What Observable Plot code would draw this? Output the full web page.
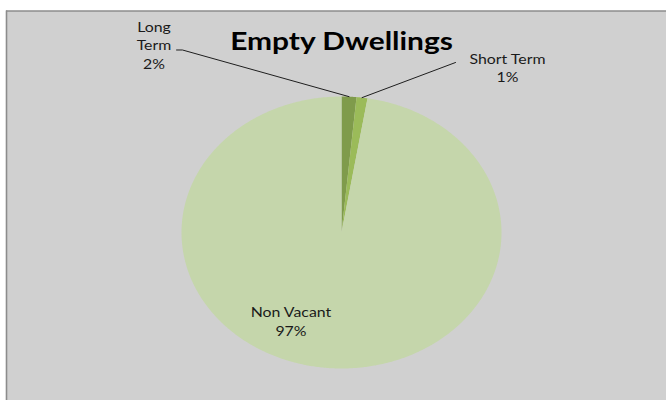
<!DOCTYPE html>
<html><head><meta charset="utf-8">
<script src="https://cdn.jsdelivr.net/npm/d3@7"></script>
<script src="https://cdn.jsdelivr.net/npm/@observablehq/plot@0.6"></script>
<style>html,body{margin:0;background:#fff;overflow:hidden;width:666px;height:400px;} #chart{width:666px;height:400px;overflow:hidden;} svg{display:block;overflow:hidden;}</style>
</head><body><div id="chart"></div>
<script>
// ---- data ----
const title = "Empty Dwellings";
const categories = ["Long Term", "Short Term", "Non Vacant"];
const shares = [1.5, 1.1, 97.4];
const labelLines = [["Long", "Term"], ["Short Term"], ["Non Vacant"]];

// ---- layout / style ----
const W = 666, H = 400;
const cx = 341, cy = 232, rx = 160, ry = 136;
const colors = ["#7f9b4b", "#9bbb59", "#c5d6ab"];
const labelAnchor = [[-1.172, 1.505], [1.0375, 1.271], [-0.316, -0.592]];
const leaderStart = [[[-1.031, 1.342], [-0.994, 1.342]], [[0.7125, 1.25]], null];
const titlePos = [0, 1.396];
const lineStep = 18.5 / ry;
const stretch = 1.22;
const panelTop = 10.5, panelLeft = 6;   // px of the chart-area border

const rows = categories.map((c, i) => ({category: c, value: shares[i]}));
const arcs = d3.pie().sort(null).value(d => d.value).startAngle(0).endAngle(2 * Math.PI)(rows);
const total = d3.sum(shares);

const slicePts = [];
arcs.forEach(a => {
  const c = a.data.category;
  const n = Math.max(2, Math.ceil((a.endAngle - a.startAngle) / (Math.PI / 360)));
  slicePts.push({category: c, x: 0, y: 0});
  for (let k = 0; k <= n; k++) {
    const t = a.startAngle + (a.endAngle - a.startAngle) * k / n;
    slicePts.push({category: c, x: Math.sin(t), y: Math.cos(t)});
  }
  slicePts.push({category: c, x: 0, y: 0});
});

const labelRows = [];
const leaderPts = [];
arcs.forEach((a, i) => {
  const lines = [...labelLines[i], Math.round(a.data.value / total * 100) + "%"];
  lines.forEach((t, j) => labelRows.push({text: t, x: labelAnchor[i][0], y: labelAnchor[i][1] - j * lineStep}));
  if (leaderStart[i]) {
    const mid = (a.startAngle + a.endAngle) / 2;
    leaderStart[i].forEach(p => leaderPts.push({category: a.data.category, x: p[0], y: p[1]}));
    leaderPts.push({category: a.data.category, x: Math.sin(mid), y: Math.cos(mid)});
  }
});

const xLeft = (panelLeft - cx) / rx, xRight = (W + 10 - cx) / rx;
const yTop = (cy - panelTop) / ry, yBottom = (cy - H - 10) / ry;

const chart = Plot.plot({
  width: W, height: H, margin: 0,
  x: {domain: [-cx / rx, (W - cx) / rx], axis: null},
  y: {domain: [(cy - H) / ry, cy / ry], axis: null},
  color: {domain: categories, range: colors},
  style: {fontFamily: "Lato", background: "#fff", maxWidth: "none"},
  marks: [
    Plot.frame({fill: "#d0d0d0", stroke: "none", insetTop: panelTop, insetLeft: panelLeft}),
    Plot.ruleY([yTop], {x1: xLeft, x2: xRight, stroke: "#8c8c8c", strokeWidth: 1.6}),
    Plot.ruleX([xLeft], {y1: yTop, y2: yBottom, stroke: "#8c8c8c", strokeWidth: 1.6}),
    Plot.line(slicePts, {x: "x", y: "y", z: "category", fill: "category", stroke: "none", curve: "linear"}),
    Plot.line(leaderPts, {x: "x", y: "y", z: "category", stroke: "#1e1e1e", strokeWidth: 1, curve: "linear"}),
    Plot.text(labelRows, {x: "x", y: "y", text: "text", fontSize: 13, fill: "#1a1a1a"}),
    Plot.text([title], {x: () => titlePos[0], y: () => titlePos[1], text: d => d, fontSize: 24.5, fontWeight: "bold", fill: "#000"})
  ]
});
document.getElementById("chart").append(chart);
chart.querySelectorAll("text").forEach(el => {
  const w = el.getComputedTextLength();
  if (w > 0) {
    el.setAttribute("textLength", (w * stretch).toFixed(1));
    el.setAttribute("lengthAdjust", "spacingAndGlyphs");
  }
});
</script>
</body></html>
